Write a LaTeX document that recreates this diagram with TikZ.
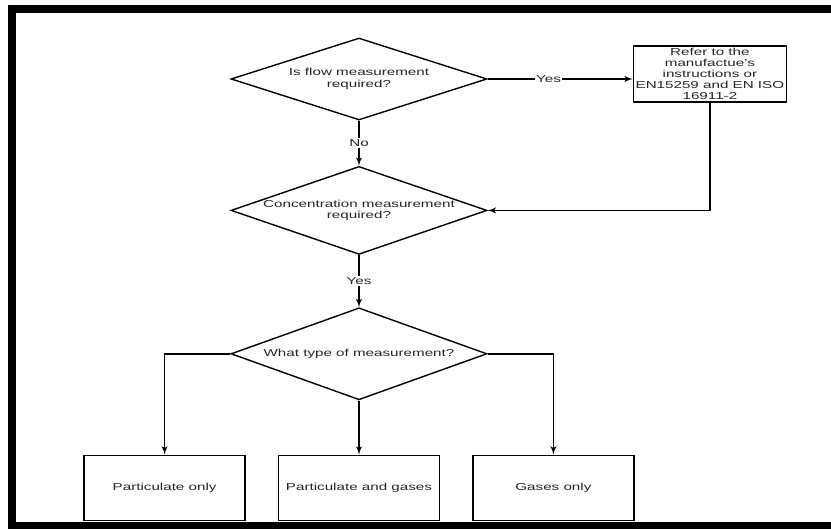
\documentclass[tikz,border=0pt]{standalone}
\usepackage{fontspec}
\setmainfont{Liberation Sans}[FakeStretch=1.5]
\usetikzlibrary
  {
    positioning,
    arrows,
    shapes.geometric,
  }
\newcommand\chartfont{\fontsize{7.2}{8.2}\selectfont}
\tikzset
  {
    >=latex',
    every path/.style={line width=1pt},
    question/.style=
      {
        draw,
        shape=diamond,
        shape aspect=3,
        inner sep=0pt,
        minimum width=6.4cm,
        align=center,
        text=black!85,
        font=\chartfont,
      },
    outcome/.style=
      {
        draw,
        rectangle,
        minimum width=4.025cm,
        minimum height=1.625cm,
        align=center,
        text=black!85,
        font=\chartfont,
      },
    edge label/.style=
      {
        fill=white,
        inner sep=1pt,
        text=black!85,
        font=\chartfont,
      },
  }

\begin{document}
\begin{tikzpicture}
  \useasboundingbox (0,0) rectangle (20.775,-13.225);

  % frame
  \fill (0.2,-0.125) rectangle (0.4,-13.225);
  \fill (0.2,-0.125) rectangle (20.775,-0.325);
  \fill (0.2,-13.05) rectangle (20.775,-13.225);

  \node[question, minimum height=2.05cm] at (8.975,-1.975) (flow)
    {Is flow measurement\\required?};
  \node[question, minimum height=2.2cm, below=1.125cm of flow] (conc)
    {Concentration measurement\\required?};
  \node[question, minimum height=2.3cm, below=1.3cm of conc] (type)
    {What type of measurement?};

  \node[outcome, minimum width=3.825cm, minimum height=1.4cm, inner sep=.5pt,
    font=\fontsize{7.2}{7.9}\selectfont,
    right=3.625cm of flow, yshift=.125cm] (refer)
    {Refer to the\\manufactue's\\instructions or\\EN15259 and EN ISO\\16911-2};

  \node[outcome, below=1.35cm of type] (both) {Particulate and gases};
  \node[outcome, left=.8cm of both] (particulate) {Particulate only};
  \node[outcome, right=.8cm of both] (gases) {Gases only};

  \draw[->] (flow.east) -- node[edge label, pos=.42] {Yes}
    (flow.east-|refer.west);
  \draw[->] (flow) -- node[edge label] {No} (conc);
  \draw[->] (refer) |- (conc.east);
  \draw[->] (conc) -- node[edge label] {Yes} (type);

  \draw[->] (type) -- (both);
  \draw[->] (type.west) -| (particulate);
  \draw[->] (type.east) -| (gases);
\end{tikzpicture}
\end{document}
